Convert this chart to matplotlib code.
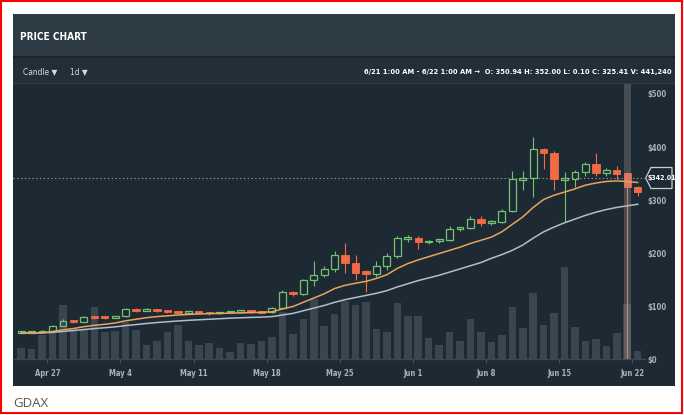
import matplotlib
matplotlib.use('Agg')
import matplotlib.pyplot as plt
from matplotlib.patches import Rectangle, Polygon
import numpy as np
import pandas as pd

W, H = 684, 415

# daily candles, GDAX ETH-USD, Apr 24 .. Jun 22
start_date = '2017-04-24'
opens = [49.5, 50.0, 50.2, 53.5, 63.0, 72.5, 70.0, 80.0, 77.5, 77.0,
         80.5, 95.0, 91.0, 94.5, 91.0, 89.0, 87.5, 88.8, 87.5, 86.0,
         88.0, 89.0, 90.5, 88.5, 88.0, 96.0, 126.0, 123.0, 149.0, 158.0,
         170.0, 196.0, 182.0, 166.0, 160.0, 176.0, 195.0, 227.0, 229.0, 220.0,
         222.0, 224.0, 246.0, 247.0, 265.0, 256.0, 259.0, 280.0, 338.0, 341.0,
         396.0, 388.0, 338.0, 340.0, 352.0, 368.0, 350.0, 357.0, 350.94, 325.41]
highs = [50.5, 50.8, 54.0, 64.5, 75.0, 73.5, 81.0, 81.5, 79.0, 81.5,
         97.0, 97.0, 95.5, 95.0, 92.0, 90.0, 90.0, 89.5, 88.5, 89.0,
         90.0, 92.0, 91.0, 90.0, 98.0, 130.0, 128.0, 151.0, 184.0, 175.0,
         203.0, 219.0, 196.0, 168.0, 185.0, 200.0, 232.0, 234.0, 232.0, 224.0,
         226.0, 250.0, 249.0, 270.0, 270.0, 262.0, 283.0, 355.0, 355.0, 418.0,
         398.0, 392.0, 352.0, 356.0, 372.0, 388.0, 360.0, 364.0, 352.00, 327.0]
lows = [48.5, 49.3, 49.8, 52.5, 62.0, 68.0, 69.5, 76.0, 76.0, 76.5,
        80.0, 89.0, 90.0, 89.0, 87.5, 86.0, 86.5, 86.5, 83.0, 84.0,
        87.0, 88.0, 86.0, 86.0, 87.0, 95.0, 118.0, 121.0, 137.0, 155.0,
        165.0, 162.0, 149.0, 127.0, 155.0, 168.0, 190.0, 221.0, 208.0, 217.0,
        219.0, 222.0, 242.0, 245.0, 250.0, 252.0, 256.0, 278.0, 318.0, 306.0,
        358.0, 318.0, 258.0, 325.0, 345.0, 345.0, 345.0, 340.0, 0.10, 307.0]
closes = [50.0, 50.2, 53.0, 63.0, 72.5, 70.0, 80.0, 77.5, 77.0, 80.5,
          95.0, 91.0, 94.5, 91.0, 89.0, 87.5, 88.8, 87.5, 86.0, 88.0,
          89.0, 90.5, 88.5, 87.5, 96.0, 126.0, 123.0, 149.0, 158.0, 170.0,
          196.0, 181.0, 163.0, 160.0, 176.0, 195.0, 229.0, 229.0, 220.0, 222.0,
          224.0, 246.0, 247.0, 264.0, 256.0, 259.0, 280.0, 340.0, 341.0, 396.0,
          388.0, 339.0, 340.0, 352.0, 368.0, 350.0, 356.0, 349.0, 325.41, 315.0]
volume_k = [91, 78, 193, 209, 433, 233, 233, 417, 214, 225,
            297, 233, 112, 147, 214, 269, 144, 116, 132, 88,
            56, 128, 124, 148, 174, 377, 197, 317, 481, 265,
            359, 469, 437, 460, 237, 219, 447, 347, 341, 166,
            112, 214, 147, 318, 217, 136, 195, 421, 249, 530,
            269, 369, 742, 257, 148, 158, 108, 209, 441.24, 68]
ema_fast = [49.0, 49.3, 49.7, 51.7, 55.0, 57.5, 61.0, 63.5, 65.5, 68.0,
            72.0, 75.0, 78.0, 80.0, 81.5, 83.0, 84.0, 85.0, 85.5, 86.0,
            86.5, 87.0, 87.5, 88.0, 89.0, 94.5, 99.0, 107.0, 115.0, 123.0,
            133.0, 139.0, 143.0, 146.5, 152.0, 159.0, 171.0, 180.0, 187.0, 193.0,
            199.0, 205.0, 211.0, 218.0, 224.0, 230.0, 240.0, 254.0, 268.0, 286.0,
            301.0, 309.0, 315.0, 321.0, 328.0, 332.0, 335.0, 336.0, 335.0, 333.0]
ema_slow = [48.5, 48.8, 49.2, 50.2, 52.0, 53.7, 55.6, 57.4, 59.0, 60.7,
            63.0, 65.0, 67.0, 68.8, 70.3, 71.7, 73.0, 74.0, 75.0, 76.0,
            77.0, 77.8, 78.5, 79.0, 80.0, 83.0, 86.0, 91.0, 96.0, 101.0,
            107.0, 112.0, 116.0, 120.0, 124.0, 129.0, 136.0, 142.0, 148.0, 153.0,
            158.0, 164.0, 170.0, 176.0, 182.0, 190.0, 197.0, 205.0, 215.0, 228.0,
            240.0, 249.0, 257.0, 264.0, 271.0, 277.0, 282.0, 286.0, 289.0, 292.0]
tick_labels = ['Apr 27', 'May 4', 'May 11', 'May 18', 'May 25', 'Jun 1', 'Jun 8', 'Jun 15', 'Jun 22']
price_ticks = [0, 100, 200, 300, 400, 500]
last_price = 342.01
hover_day = '2017-06-21'
info_text = '6/21 1:00 AM - 6/22 1:00 AM \u2192  O: 350.94 H: 352.00 L: 0.10 C: 325.41 V: 441,240'

BG = '#1e2a33'
GREEN = '#72c272'
RED = '#f36b45'
TXT = '#aab3ba'
NARROW = dict(family='DejaVu Sans', stretch='condensed')


def fx(x):
    return x / W


def fy(y):
    return 1 - y / H


fig = plt.figure(figsize=(W / 100, H / 100), dpi=100, facecolor='white')


def box(x0, y0, x1, y1, color):
    fig.add_artist(Rectangle((fx(x0), fy(y1)), fx(x1 - x0), (y1 - y0) / H,
                             transform=fig.transFigure, facecolor=color, edgecolor='none',
                             zorder=-10))


# panel: header, toolbar, chart
box(13, 14, 675, 386, BG)
box(13, 14, 675, 57, '#2c3b44')
box(13, 57, 675, 84, '#222f38')
box(13, 56.5, 675, 58, '#19232a')
box(13, 83.5, 675, 84.5, '#323f48')

# red frame
fig.add_artist(Rectangle((fx(1), fy(413)), fx(681), 412 / H, transform=fig.transFigure,
                         facecolor='none', edgecolor='#ff0000', linewidth=1.5, zorder=10))

fig.text(fx(20.5), fy(37), 'PRICE CHART', color='white', fontsize=7.2, fontweight='bold',
         va='center', ha='left', **NARROW)
fig.text(fx(23), fy(72), 'Candle \u25bc', color='#d5dade', fontsize=6, va='center',
         ha='left', **NARROW)
fig.text(fx(70), fy(72), '1d \u25bc', color='#d5dade', fontsize=6, va='center',
         ha='left', **NARROW)
fig.text(fx(672), fy(72), info_text, color='white', fontsize=5.4, fontweight='bold',
         va='center', ha='right', **NARROW)
fig.text(fx(13), fy(403), 'GDAX', color='#555555', fontsize=9.5, family=['Open Sans', 'DejaVu Sans'],
         va='center', ha='left')

rect = [fx(13), fy(359), fx(632), 275 / H]
ax_v = fig.add_axes(rect)
ax = fig.add_axes(rect)

dates = pd.date_range(start_date, periods=len(opens), freq='D')
x = np.arange(len(dates))
o = np.array(opens)
h = np.array(highs)
l = np.array(lows)
c = np.array(closes)

# volume
ax_v.set_facecolor(BG)
ax_v.bar(x, volume_k, width=0.72, color='#3a464f', zorder=1)
ax_v.set_ylim(0, 275 * 8.023)
ax_v.set_xlim(-0.78, 59.7)
ax_v.set_xticks([])
ax_v.set_yticks([])
for s in ax_v.spines.values():
    s.set_visible(False)

# candles
ax.set_facecolor('none')
up = c >= o
top = np.maximum(o, c)
bot = np.minimum(o, c)
hgt = np.maximum(top - bot, 3.5)
ax.vlines(x[up], top[up], h[up], color=GREEN, lw=0.8, zorder=2)
ax.vlines(x[up], l[up], bot[up], color=GREEN, lw=0.8, zorder=2)
ax.bar(x[up], hgt[up], bottom=bot[up], width=0.66, facecolor='none', edgecolor=GREEN,
       linewidth=0.9, zorder=2)
ax.vlines(x[~up], l[~up], h[~up], color=RED, lw=0.8, zorder=2)
ax.bar(x[~up], hgt[~up], bottom=bot[~up], width=0.7, facecolor=RED, edgecolor=RED,
       linewidth=0.6, zorder=2)

ax.plot(x, ema_slow, color='#b3bccb', lw=1.1, zorder=3)
ax.plot(x, ema_fast, color='#e9a35c', lw=1.1, zorder=3)

ax.axhline(last_price, color='#8d979f', lw=0.8, ls=(0, (1.2, 2.2)), zorder=1)

hx = (pd.Timestamp(hover_day) - dates[0]).days
ax.axvspan(hx - 0.35, hx + 0.35, color='#a0a0a0', alpha=0.3, lw=0, zorder=5)

ax.set_xlim(-0.78, 59.7)
ax.set_ylim(0, 275 / 0.53)

tick_pos = [(pd.to_datetime(t + ' 2017') - dates[0]).days - 0.5 for t in tick_labels]
ax.set_xticks(tick_pos, tick_labels)
ax.set_yticks(price_ticks, ['$%d' % p for p in price_ticks])
ax.yaxis.tick_right()
ax.tick_params(axis='y', length=0, pad=2, labelsize=5.5, labelcolor=TXT)
ax.tick_params(axis='x', length=3, width=0.8, color='#46525b', pad=4, labelsize=5.5,
               labelcolor=TXT)
for lab in ax.get_xticklabels() + ax.get_yticklabels():
    lab.set_family('DejaVu Sans')
    lab.set_stretch('condensed')
    lab.set_fontweight('bold')
for k in ['top', 'left', 'right']:
    ax.spines[k].set_visible(False)
ax.spines['bottom'].set_color('#3c4850')
ax.spines['bottom'].set_linewidth(1.0)

# last price tag
tag = [(645.7, 178), (651, 167.5), (672, 167.5), (672, 188.5), (651, 188.5)]
fig.add_artist(Polygon([(fx(a), fy(b)) for a, b in tag], closed=True, transform=fig.transFigure,
                       facecolor=BG, edgecolor='#c9cfd4', linewidth=0.9, zorder=4))
fig.text(fx(661.5), fy(178), '$%.2f' % last_price, color='white', fontsize=5,
         fontweight='bold', va='center', ha='center', zorder=5, **NARROW)

fig.savefig('out.png', dpi=100, facecolor='white')
